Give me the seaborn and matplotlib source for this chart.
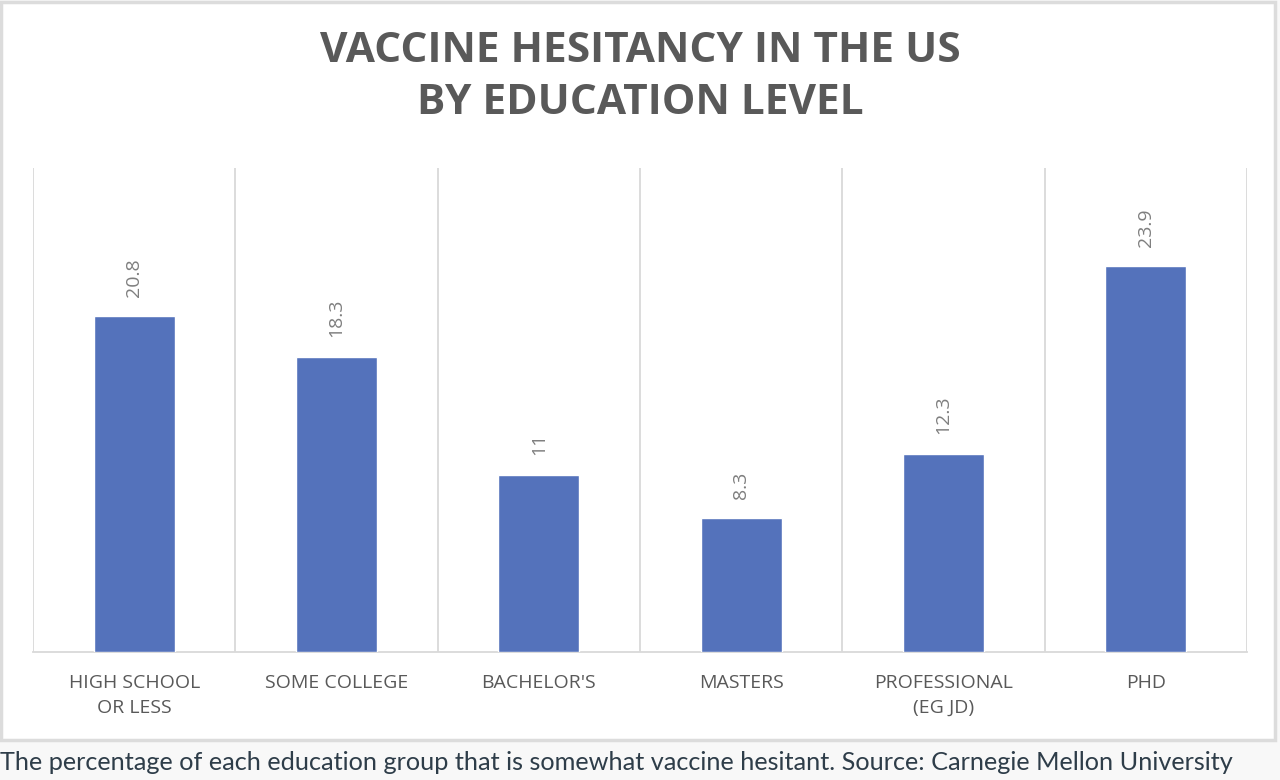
import matplotlib
matplotlib.use("Agg")
import matplotlib.pyplot as plt
import seaborn as sns
import pandas as pd
from matplotlib.patches import Rectangle

categories = ["HIGH SCHOOL\nOR LESS", "SOME COLLEGE", "BACHELOR'S", "MASTERS",
              "PROFESSIONAL\n(EG JD)", "PHD"]
values = [20.8, 18.3, 11, 8.3, 12.3, 23.9]
value_labels = ["20.8", "18.3", "11", "8.3", "12.3", "23.9"]
title = "VACCINE HESITANCY IN THE US\nBY EDUCATION LEVEL"
caption = ("The percentage of each education group that is somewhat vaccine hesitant. "
           "Source: Carnegie Mellon University")

sns.set_theme(style="white")
plt.rcParams["font.family"] = ["Open Sans", "DejaVu Sans"]

W, H = 1280, 780
fig = plt.figure(figsize=(12.8, 7.8), dpi=100, facecolor="#f8f8f8")

# chart frame
frame = Rectangle((1 / W, 1 - 740 / H), 1274 / W, 738 / H, transform=fig.transFigure,
                  facecolor="white", edgecolor="#dcdcdc", linewidth=2.5, zorder=-5)
fig.patches.append(frame)

ax = fig.add_axes([33 / W, 1 - 652 / H, 1214 / W, (652 - 168) / H])
ax.set_zorder(2)
ax.set_facecolor("none")

df = pd.DataFrame({"cat": categories, "val": values})
sns.barplot(data=df, x="cat", y="val", color="#5472BB", width=0.4, saturation=1,
            ax=ax, zorder=3)

ax.set_xlim(-0.5, len(categories) - 0.5)
ax.set_ylim(0, 30)
ax.set_xlabel("")
ax.set_ylabel("")
ax.set_yticks([])

ax.set_xticks([i - 0.5 for i in range(len(categories) + 1)], minor=True)
ax.grid(True, which="minor", axis="x", color="#d9d9d9", linewidth=1.3, zorder=0)
ax.grid(False, which="major")
ax.set_axisbelow(True)
ax.tick_params(axis="x", which="both", length=0)
ax.tick_params(axis="x", which="major", pad=16, labelsize=14, labelcolor="#595959")
for lbl in ax.get_xticklabels():
    lbl.set_linespacing(1.5)

for s in ["top", "left", "right"]:
    ax.spines[s].set_visible(False)
ax.spines["bottom"].set_color("#d9d9d9")
ax.spines["bottom"].set_linewidth(1.3)

ax.bar_label(ax.containers[0], labels=value_labels, rotation=90, padding=14,
             fontsize=14, color="#7f7f7f")

fig.text(0.5, 1 - 77.5 / H, title, ha="center", va="center", fontsize=30.5,
         fontweight="bold", color="#595959", linespacing=1.38)

fig.text(0 / W, 1 - 762 / H, caption, ha="left", va="center", fontsize=18.2,
         color="#2e3d49", family=["Lato", "DejaVu Sans"])

fig.savefig("out.png", dpi=100, facecolor=fig.get_facecolor())
